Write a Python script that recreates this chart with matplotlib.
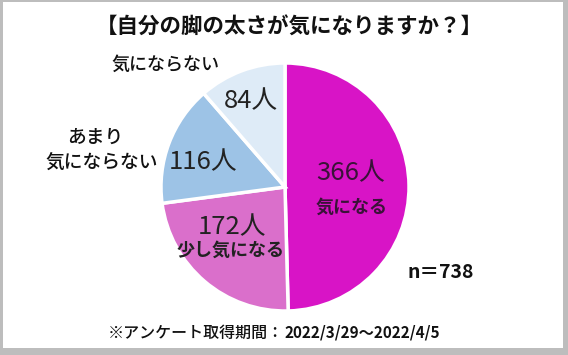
import matplotlib.pyplot as plt
from matplotlib.patches import Rectangle

plt.rcParams["font.family"] = ["Noto Sans CJK JP", "DejaVu Sans"]

# data (clockwise from 12 o'clock)
categories = ["気になる", "少し気になる", "あまり\n気にならない", "気にならない"]
counts = [366, 172, 116, 84]
colors = ["#D814C6", "#DA6FCB", "#9DC3E6", "#DEEBF7"]
title = "【自分の脚の太さが気になりますか？】"
note_jp = "※アンケート取得期間："
note_date = "2022/3/29～2022/4/5"
n_text = "n＝738"

W, H = 568, 355
fig = plt.figure(figsize=(W / 100, H / 100), dpi=100)
fig.patch.set_facecolor("#BDBDBD")
ax = fig.add_axes([0, 0, 1, 1])


def y(v):
    return H - v


# white card inside the gray frame
ax.add_patch(Rectangle((3, y(348)), 560, 346, facecolor="white", edgecolor="none", zorder=0))

ax.pie(counts, colors=colors, startangle=90, counterclock=False,
       center=(285, y(187)), radius=124, explode=[0.015, 0.0, 0.0, 0.0],
       wedgeprops=dict(edgecolor="white", linewidth=2.5), frame=True)
ax.set_xlim(0, W)
ax.set_ylim(0, H)
ax.set_aspect("equal")
ax.axis("off")

# title / notes
ax.text(289, y(27), title, ha="center", va="center", fontsize=15.5, fontweight="bold", color="#111111")
t1 = ax.text(108, y(333), note_jp, ha="left", va="center", fontsize=11.5, fontweight="medium", color="#111111")
ax.annotate(note_date, xy=(1, 0.5), xycoords=t1, ha="left", va="center",
            fontsize=11, fontweight="bold", color="#111111")
ax.text(441, y(273), n_text, ha="center", va="center", fontsize=14, fontweight="bold", color="#111111")

# values inside slices
ax.text(351, y(173), f"{counts[0]}人", ha="center", va="center", fontsize=18.5, color="#3A1238")
ax.text(352, y(207), categories[0], ha="center", va="center", fontsize=13, fontweight="bold", color="#3A1238")
ax.text(232, y(227), f"{counts[1]}人", ha="center", va="center", fontsize=18.5, color="#222222")
ax.text(231, y(250), categories[1], ha="center", va="center", fontsize=13, fontweight="bold", color="#222222")
ax.text(203, y(162), f"{counts[2]}人", ha="center", va="center", fontsize=18.5, color="#222222")
ax.text(251, y(101), f"{counts[3]}人", ha="center", va="center", fontsize=18.5, color="#222222")

# labels outside
ax.text(165, y(65), categories[3], ha="center", va="center", fontsize=13, fontweight="medium", color="#111111")
ax.text(95, y(137), "あまり", ha="center", va="center", fontsize=13.5, fontweight="medium", color="#111111")
ax.text(102, y(163), "気にならない", ha="center", va="center", fontsize=13.5, fontweight="medium", color="#111111")

fig.savefig("out.png", dpi=100, facecolor=fig.get_facecolor())
